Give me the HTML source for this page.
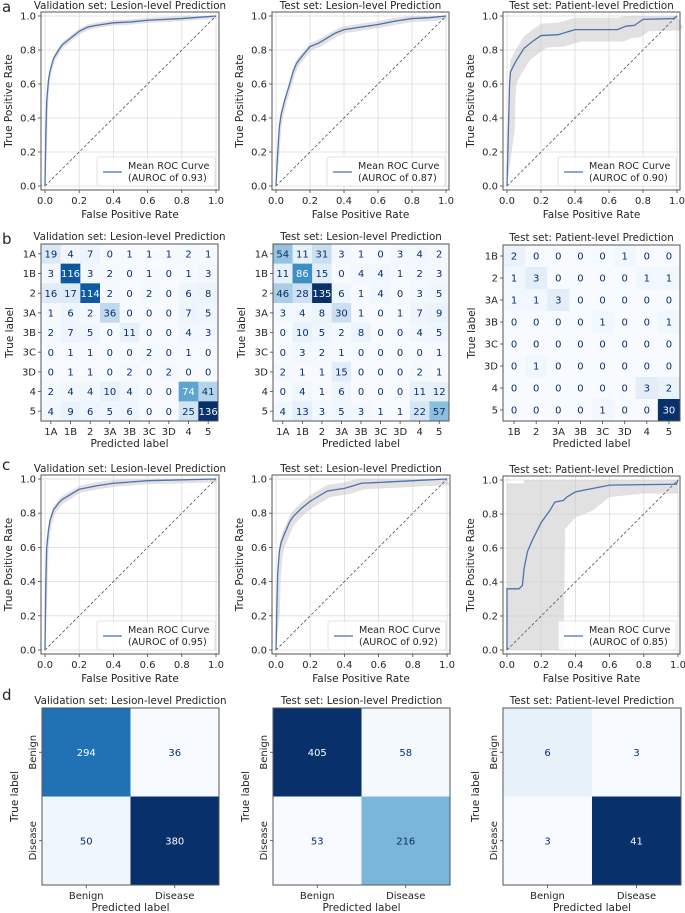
<!DOCTYPE html>
<html><head><meta charset="utf-8">
<style>
html,body{margin:0;padding:0;background:#fff;}
svg{display:block;font-family:"DejaVu Sans","Liberation Sans",sans-serif;}
</style></head>
<body>
<svg id="fig" width="685" height="913" viewBox="0 0 685 913" xmlns="http://www.w3.org/2000/svg"></svg>
<script>
// ---------- ROC data ----------
const rocValA_fpr = [0,0.005,0.01,0.02,0.03,0.05,0.08,0.1,0.15,0.2,0.25,0.3,0.4,0.5,0.6,0.8,1];
const rocValA_tpr = [0,0.3,0.5,0.62,0.68,0.75,0.8,0.83,0.87,0.91,0.935,0.945,0.96,0.965,0.975,0.985,1];
const rocTestA_fpr = [0,0.01,0.02,0.03,0.05,0.08,0.1,0.12,0.15,0.2,0.25,0.3,0.35,0.4,0.5,0.6,0.7,0.8,0.9,1];
const rocTestA_tpr = [0,0.2,0.35,0.42,0.5,0.6,0.67,0.72,0.76,0.82,0.84,0.87,0.9,0.92,0.935,0.95,0.97,0.985,0.99,1];
const rocPatA_fpr = [0,0.01,0.015,0.02,0.05,0.1,0.15,0.2,0.3,0.4,0.65,0.7,0.75,0.8,0.98,1];
const rocPatA_tpr = [0,0.4,0.6,0.67,0.73,0.81,0.85,0.885,0.89,0.92,0.92,0.94,0.945,0.98,0.985,1];
const rocValC_fpr = [0,0.005,0.01,0.02,0.03,0.05,0.08,0.1,0.15,0.2,0.3,0.4,0.6,1];
const rocValC_tpr = [0,0.4,0.6,0.7,0.76,0.82,0.86,0.88,0.91,0.94,0.96,0.975,0.99,1];
const rocTestC_fpr = [0,0.005,0.01,0.02,0.03,0.05,0.08,0.1,0.15,0.2,0.3,0.4,0.45,0.5,0.6,0.8,1];
const rocTestC_tpr = [0,0.25,0.45,0.58,0.63,0.68,0.75,0.78,0.83,0.87,0.93,0.945,0.96,0.975,0.98,0.99,1];
const rocPatC_fpr = [0,0,0.07,0.09,0.1,0.12,0.15,0.18,0.2,0.25,0.28,0.33,0.35,0.4,0.5,0.6,0.99,1];
const rocPatC_tpr = [0,0.36,0.36,0.38,0.48,0.58,0.65,0.71,0.75,0.82,0.87,0.88,0.9,0.93,0.95,0.97,0.975,1];
const rocPatC_bandX = [0,0.1,0.1,0.33,0.34,0.4,0.5,0.6,0.8,1];
const rocPatC_bandLo = [0,0,0,0,0.71,0.78,0.82,0.9,0.92,0.92];
const rocPatC_bandHi = [0.98,0.98,1,1,1,1,1,1,1,1];
const aucLabels = ["0.93","0.87","0.90","0.95","0.92","0.85"];
const bandWidths = [0.015,0.02,0.07,0.02,0.035];
const rocTicks = [0,0.2,0.4,0.6,0.8,1.0];
const rocTickLabels = ["0.0","0.2","0.4","0.6","0.8","1.0"];
// ---------- Confusion matrices ----------
const cmLabels9 = ["1A","1B","2","3A","3B","3C","3D","4","5"];
const cmLabels8 = ["1B","2","3A","3B","3C","3D","4","5"];
const cmVal = [[19,4,7,0,1,1,1,2,1],[3,116,3,2,0,1,0,1,3],[16,17,114,2,0,2,0,6,8],[1,6,2,36,0,0,0,7,5],[2,7,5,0,11,0,0,4,3],[0,1,1,0,0,2,0,1,0],[0,1,1,0,2,0,2,0,0],[2,4,4,10,4,0,0,74,41],[4,9,6,5,6,0,0,25,136]];
const cmTest = [[54,11,31,3,1,0,3,4,2],[11,86,15,0,4,4,1,2,3],[46,28,135,6,1,4,0,3,5],[3,4,8,30,1,0,1,7,9],[0,10,5,2,8,0,0,4,5],[0,3,2,1,0,0,0,0,1],[2,1,1,15,0,0,0,2,1],[0,4,1,6,0,0,0,11,12],[4,13,3,5,3,1,1,22,57]];
const cmPat = [[2,0,0,0,0,1,0,0],[1,3,0,0,0,0,1,1],[1,1,3,0,0,0,0,0],[0,0,0,0,1,0,0,1],[0,0,0,0,0,0,0,0],[0,1,0,0,0,0,0,0],[0,0,0,0,0,0,3,2],[0,0,0,0,1,0,0,30]];
const binLabels = ["Benign","Disease"];
const binVal = [[294,36],[50,380]];
const binTest = [[405,58],[53,216]];
const binPat = [[6,3],[3,41]];

const TITLE=10.3, TICK=10, AXT=10.5, LEG=9.6, CELL=10;
const NS="http://www.w3.org/2000/svg";
const svg=document.getElementById('fig');
function mk(tag,attrs,parent){const e=document.createElementNS(NS,tag);for(const k in attrs)e.setAttribute(k,attrs[k]);(parent||svg).appendChild(e);return e;}
function txt(s,x,y,size,anchor,parent,extra){const t=mk('text',Object.assign({x:x,y:y,'font-size':size,'text-anchor':anchor||'middle',fill:'#262626'},extra||{}),parent);t.textContent=s;return t;}

const blues=["#f7fbff","#deebf7","#c6dbef","#9ecae1","#6baed6","#4292c6","#2171b5","#08519c","#08306b"];
function hex(c){return [1,3,5].map(i=>parseInt(c.substr(i,2),16));}
function bluesAt(t){t=Math.max(0,Math.min(1,t));const p=t*8,i=Math.min(7,Math.floor(p)),f=p-i;const a=hex(blues[i]),b=hex(blues[i+1]);return 'rgb('+a.map((v,k)=>Math.round(v+(b[k]-v)*f)).join(',')+')';}

[["a",12],["b",244],["c",470],["d",700]].forEach(([l,y])=>{const t=txt(l,2,y,15,'start');});

function roc(name,fx,fy,fw,fh,x0,x1,y1,y0,title,fpr,tpr,bw,auc,band){
  const g=mk('g',{});
  
  
  const sx=v=>x0+(x1-x0)*v, sy=v=>y0-(y0-y1)*v;
  const tt=txt(title,fx+fw/2,fy-3,TITLE,'middle',g);
  
  rocTicks.forEach((v,i)=>{
    mk('line',{x1:sx(v),x2:sx(v),y1:fy,y2:fy+fh,stroke:'#dcdcdc','stroke-width':0.8},g);
    mk('line',{x1:fx,x2:fx+fw,y1:sy(v),y2:sy(v),stroke:'#dcdcdc','stroke-width':0.8},g);
    mk('line',{x1:sx(v),x2:sx(v),y1:fy+fh,y2:fy+fh+3,stroke:'#444','stroke-width':0.8},g);
    mk('line',{x1:fx-3,x2:fx,y1:sy(v),y2:sy(v),stroke:'#444','stroke-width':0.8},g);
    const xl=txt(rocTickLabels[i],sx(v),fy+fh+14,TICK,'middle',g);
    
    const yl=txt(rocTickLabels[i],fx-5,sy(v)+3.5,TICK,'end',g);
    
  });
  let pts=[];
  if(band){
    band.x.forEach((v,i)=>pts.push(sx(v)+','+sy(band.hi[i])));
    for(let i=band.x.length-1;i>=0;i--)pts.push(sx(band.x[i])+','+sy(band.lo[i]));
  } else {
    fpr.forEach((v,i)=>pts.push(sx(v)+','+sy(Math.min(1,tpr[i]+bw))));
    for(let i=fpr.length-1;i>=0;i--)pts.push(sx(Math.max(0,fpr[i]+(i>0?bw*0.5:0)))+','+sy(Math.max(0,tpr[i]-bw)));
  }
  const b=mk('polygon',{points:pts.join(' '),fill:'#c8c8c8','fill-opacity':0.55,stroke:'none'},g);
  
  const d=mk('line',{x1:sx(0),y1:sy(0),x2:sx(1),y2:sy(1),stroke:'#555','stroke-width':0.8,'stroke-dasharray':'3,2'},g);
  
  const l=mk('polyline',{points:fpr.map((v,i)=>sx(v)+','+sy(tpr[i])).join(' '),fill:'none',stroke:'#4c72b0','stroke-width':1.3},g);
  
  mk('rect',{x:fx,y:fy,width:fw,height:fh,fill:'none',stroke:'#555','stroke-width':1},g);
  const lg=mk('g',{},g);
  
  const lx=fx+fw-122;
  mk('rect',{x:lx,y:fy+fh-33,width:118,height:29,rx:2,fill:'#fff','fill-opacity':0.85,stroke:'#dcdcdc','stroke-width':0.8},lg);
  mk('line',{x1:lx+6,x2:lx+25,y1:fy+fh-18,y2:fy+fh-18,stroke:'#4c72b0','stroke-width':1.3},lg);
  txt('Mean ROC Curve',lx+31,fy+fh-21,LEG,'start',lg);
  txt('(AUROC of '+auc+')',lx+31,fy+fh-9,LEG,'start',lg);
  const xa=txt('False Positive Rate',fx+fw/2,fy+fh+28,AXT,'middle',g);
  
  const yx=fx-29,yy=fy+fh/2;
  const ya=txt('True Positive Rate',yx,yy,AXT,'middle',g,{transform:'rotate(-90 '+yx+' '+yy+')'});
  
}

function cm(name,fx,fy,fw,fh,title,mat,labels,rotY,fs){
  const g=mk('g',{});
  
  
  const n=labels.length,cw=fw/n,ch=fh/n;
  let mn=Infinity,mx=-Infinity;mat.forEach(r=>r.forEach(v=>{mn=Math.min(mn,v);mx=Math.max(mx,v);}));
  const thr=(mx+mn)/2;
  const tt=txt(title,fx+fw/2,fy-4,TITLE,'middle',g);
  
  mat.forEach((r,i)=>r.forEach((v,j)=>{
    const c=mk('rect',{x:fx+j*cw,y:fy+i*ch,width:cw+0.3,height:ch+0.3,fill:bluesAt((v-mn)/(mx-mn))},g);
    
    const t=txt(String(v),fx+(j+0.5)*cw,fy+(i+0.5)*ch+fs*0.36,fs,'middle',g,{fill:v>thr?'#f7fbff':'#08306b'});
    
  }));
  mk('rect',{x:fx,y:fy,width:fw,height:fh,fill:'none',stroke:'#555','stroke-width':1},g);
  labels.forEach((lab,i)=>{
    const cx=fx+(i+0.5)*cw, cy=fy+(i+0.5)*ch;
    mk('line',{x1:cx,x2:cx,y1:fy+fh,y2:fy+fh+3,stroke:'#444','stroke-width':0.8},g);
    mk('line',{x1:fx-3,x2:fx,y1:cy,y2:cy,stroke:'#444','stroke-width':0.8},g);
    const xl=txt(lab,cx,fy+fh+14,TICK,'middle',g);
    
    let yl;
    if(rotY){yl=txt(lab,fx-6,cy,TICK,'middle',g,{transform:'rotate(-90 '+(fx-6)+' '+cy+')'});}
    else yl=txt(lab,fx-5,cy+3.5,TICK,'end',g);
    
  });
  const xa=txt('Predicted label',fx+fw/2,fy+fh+26,AXT,'middle',g);
  
  const yx=rotY?fx-24:fx-28,yy=fy+fh/2;
  const ya=txt('True label',yx,yy,AXT,'middle',g,{transform:'rotate(-90 '+yx+' '+yy+')'});
  
}

roc('roc-validation-lesion-a',41,12,178,178,45,216,16,186,'Validation set: Lesion-level Prediction',rocValA_fpr,rocValA_tpr,bandWidths[0],aucLabels[0]);
roc('roc-test-lesion-a',272,12,177,178,276,446,16,186,'Test set: Lesion-level Prediction',rocTestA_fpr,rocTestA_tpr,bandWidths[1],aucLabels[1]);
roc('roc-test-patient-a',503,12,177,178,507,677,16,186,'Test set: Patient-level Prediction',rocPatA_fpr,rocPatA_tpr,bandWidths[2],aucLabels[2]);
cm('cm-validation-lesion-b',41,244,177,177,'Validation set: Lesion-level Prediction',cmVal,cmLabels9,false,CELL);
cm('cm-test-lesion-b',273,244,176,177,'Test set: Lesion-level Prediction',cmTest,cmLabels9,false,CELL);
cm('cm-test-patient-b',503,245,177,176,'Test set: Patient-level Prediction',cmPat,cmLabels8,false,CELL);
roc('roc-validation-lesion-c',41,475,178,179,45,216,479,650,'Validation set: Lesion-level Prediction',rocValC_fpr,rocValC_tpr,bandWidths[3],aucLabels[3]);
roc('roc-test-lesion-c',272,475,178,179,276,447,479,650,'Test set: Lesion-level Prediction',rocTestC_fpr,rocTestC_tpr,bandWidths[4],aucLabels[4]);
roc('roc-test-patient-c',503,476,177,178,507,678,480,650,'Test set: Patient-level Prediction',rocPatC_fpr,rocPatC_tpr,0,aucLabels[5],{x:rocPatC_bandX,lo:rocPatC_bandLo,hi:rocPatC_bandHi});
cm('cm-validation-binary-d',42,708,177,177,'Validation set: Lesion-level Prediction',binVal,binLabels,true,CELL);
cm('cm-test-lesion-binary-d',273,708,177,177,'Test set: Lesion-level Prediction',binTest,binLabels,true,CELL);
cm('cm-test-patient-binary-d',503,708,178,177,'Test set: Patient-level Prediction',binPat,binLabels,true,CELL);
</script>
</body></html>
